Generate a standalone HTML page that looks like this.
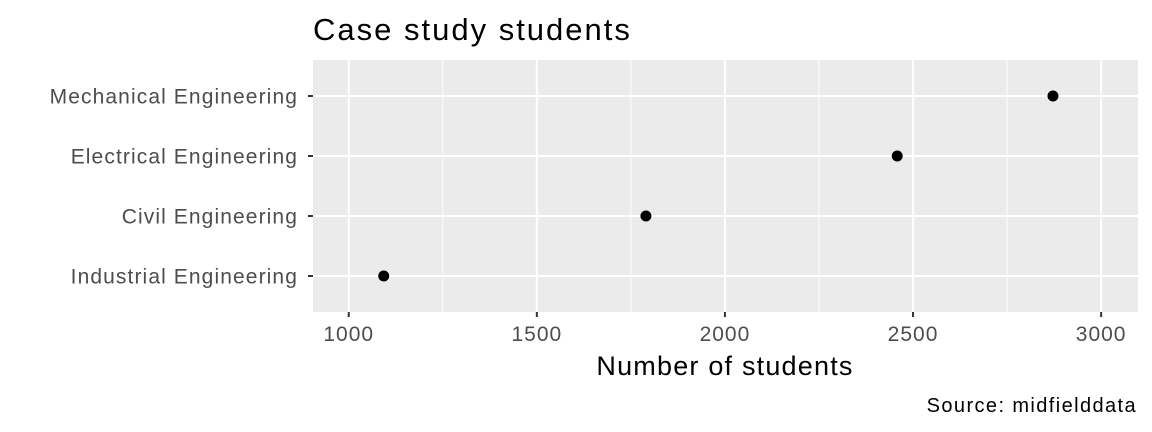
<!DOCTYPE html>
<html><head><meta charset="utf-8"><style>
body{margin:0;background:#fff;}
svg{display:block;font-family:"Liberation Sans",Arial,sans-serif;}
</style></head><body>
<svg id="chart" width="1152" height="432">
<rect width="1152" height="432" fill="#fff"/>
<text x="313" y="40" font-size="31" letter-spacing="2" fill="#000">Case study students</text>
<rect x="313" y="60" width="825" height="252" fill="#ebebeb"/>
<g id="grid"></g><g id="yaxis"></g><g id="xaxis"></g><g id="points"></g>
<text x="725" y="375" font-size="27" letter-spacing="1.2" text-anchor="middle" fill="#000">Number of students</text>
<text x="1137" y="412" font-size="20" letter-spacing="1.4" text-anchor="end" fill="#000">Source: midfielddata</text>
</svg>
<script>
const categories=["Industrial Engineering","Civil Engineering","Electrical Engineering","Mechanical Engineering"];
const values=[1093,1790,2458,2872];
const xTicks=[1000,1500,2000,2500,3000];
const ns="http://www.w3.org/2000/svg";
const px0=313,px1=1138,py0=60,py1=312;
const xmin=905,xmax=3098;
function xs(v){return px0+(v-xmin)/(xmax-xmin)*(px1-px0);}
function ys(i){const n=categories.length;const step=(py1-py0)/(n+0.2);return py1-step*(0.6+i);}
function mk(tag,attrs,parent){const e=document.createElementNS(ns,tag);for(const k in attrs)e.setAttribute(k,attrs[k]);document.getElementById(parent).appendChild(e);return e;}
for(let i=0;i<xTicks.length;i++){
 if(i<xTicks.length-1){const m=(xTicks[i]+xTicks[i+1])/2;
  const l=mk('line',{x1:xs(m),x2:xs(m),y1:py0,y2:py1,stroke:'#fff','stroke-width':1},'grid');
  
  }
 const g=mk('line',{x1:xs(xTicks[i]),x2:xs(xTicks[i]),y1:py0,y2:py1,stroke:'#fff','stroke-width':2},'grid');
 
 
 const t=mk('line',{x1:xs(xTicks[i]),x2:xs(xTicks[i]),y1:py1,y2:py1+5,stroke:'#333','stroke-width':2},'xaxis');
 
 
 const tx=mk('text',{x:xs(xTicks[i]),y:py1+29,'font-size':21,'letter-spacing':1,'text-anchor':'middle',fill:'#4d4d4d'},'xaxis');
 tx.textContent=xTicks[i];
 
 
}
for(let i=0;i<categories.length;i++){
 const y=ys(i);
 const g=mk('line',{x1:px0,x2:px1,y1:y,y2:y,stroke:'#fff','stroke-width':2},'grid');
 
 
 const t=mk('line',{x1:px0-5,x2:px0,y1:y,y2:y,stroke:'#333','stroke-width':2},'yaxis');
 
 
 const tx=mk('text',{x:px0-15,y:y+7.5,'font-size':21,'letter-spacing':1.1,'text-anchor':'end',fill:'#4d4d4d'},'yaxis');
 tx.textContent=categories[i];
 
 
 const c=mk('circle',{cx:xs(values[i]),cy:y,r:5.5,fill:'#000'},'points');
 
 
}
</script>
</body></html>
